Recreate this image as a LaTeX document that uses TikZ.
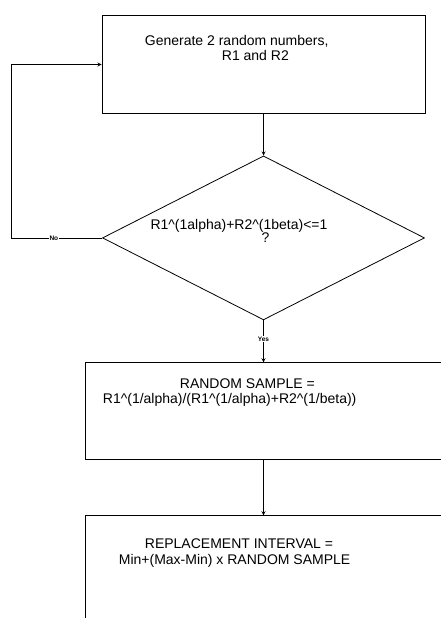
\documentclass[tikz,border=0pt]{standalone}
\usepackage{fontspec}
\setmainfont{Liberation Sans}
\usetikzlibrary{shapes.geometric,positioning}

\begin{document}
\begin{tikzpicture}[node distance=42pt, >=stealth, line width=0.8pt,
    box/.style={draw, rectangle, line width=1pt, inner sep=0pt},
    decision/.style={draw, diamond, minimum width=322pt, minimum height=164pt, inner sep=0pt},
    txt/.style={anchor=base west, align=left, inner sep=0pt, font=\fontsize{14}{#1}\selectfont},
    lbl/.style={fill=white, inner sep=1pt, font=\fontsize{6.5}{7}\selectfont\bfseries}]
    \clip (0,0) rectangle (441pt,-618pt);
    \node[box, minimum width=323pt, minimum height=97pt] (gen) at (263.5pt,-64.5pt) {};
    \node[decision, below=of gen] (test) {};
    \node[box, below=of test, minimum width=356pt, minimum height=97pt] (sample) {};
    \node[box, below=55pt of sample, minimum width=356pt, minimum height=110pt] (interval) {};
    % texts
    \node[txt=14.5pt] (gen-text) at ([xshift=43pt,yshift=-45pt]gen.north west) {Generate 2 random numbers,\\\hspace*{77pt}R1 and R2};
    \node[txt=13.3pt] (test-text) at ([xshift=48pt,yshift=-4.7pt]test.west) {R1\textasciicircum(1alpha)+R2\textasciicircum(1beta)<=1\\\hspace*{111pt}?};
    \node[txt=15.5pt] (sample-text) at ([xshift=17.5pt,yshift=-41.5pt]sample.north west) {\hspace*{77pt}RANDOM SAMPLE =\\R1\textasciicircum(1/alpha)/(R1\textasciicircum(1/alpha)+R2\textasciicircum(1/beta))};
    \node[txt=16pt] (interval-text) at ([xshift=33.5pt,yshift=-49pt]interval.north west) {\hspace*{26pt}REPLACEMENT INTERVAL =\\Min+(Max-Min) x RANDOM SAMPLE};
    % connectors
    \draw[->] (gen) -- (test);
    \draw[->] (test) -- node[lbl, pos=0.45] {Yes} (sample);
    \draw[->] (sample) -- (interval);
    \draw[->] (test.west) -- node[lbl, pos=0.53] {No} ([xshift=-91pt]test.west) |- (gen.west);
\end{tikzpicture}
\end{document}
